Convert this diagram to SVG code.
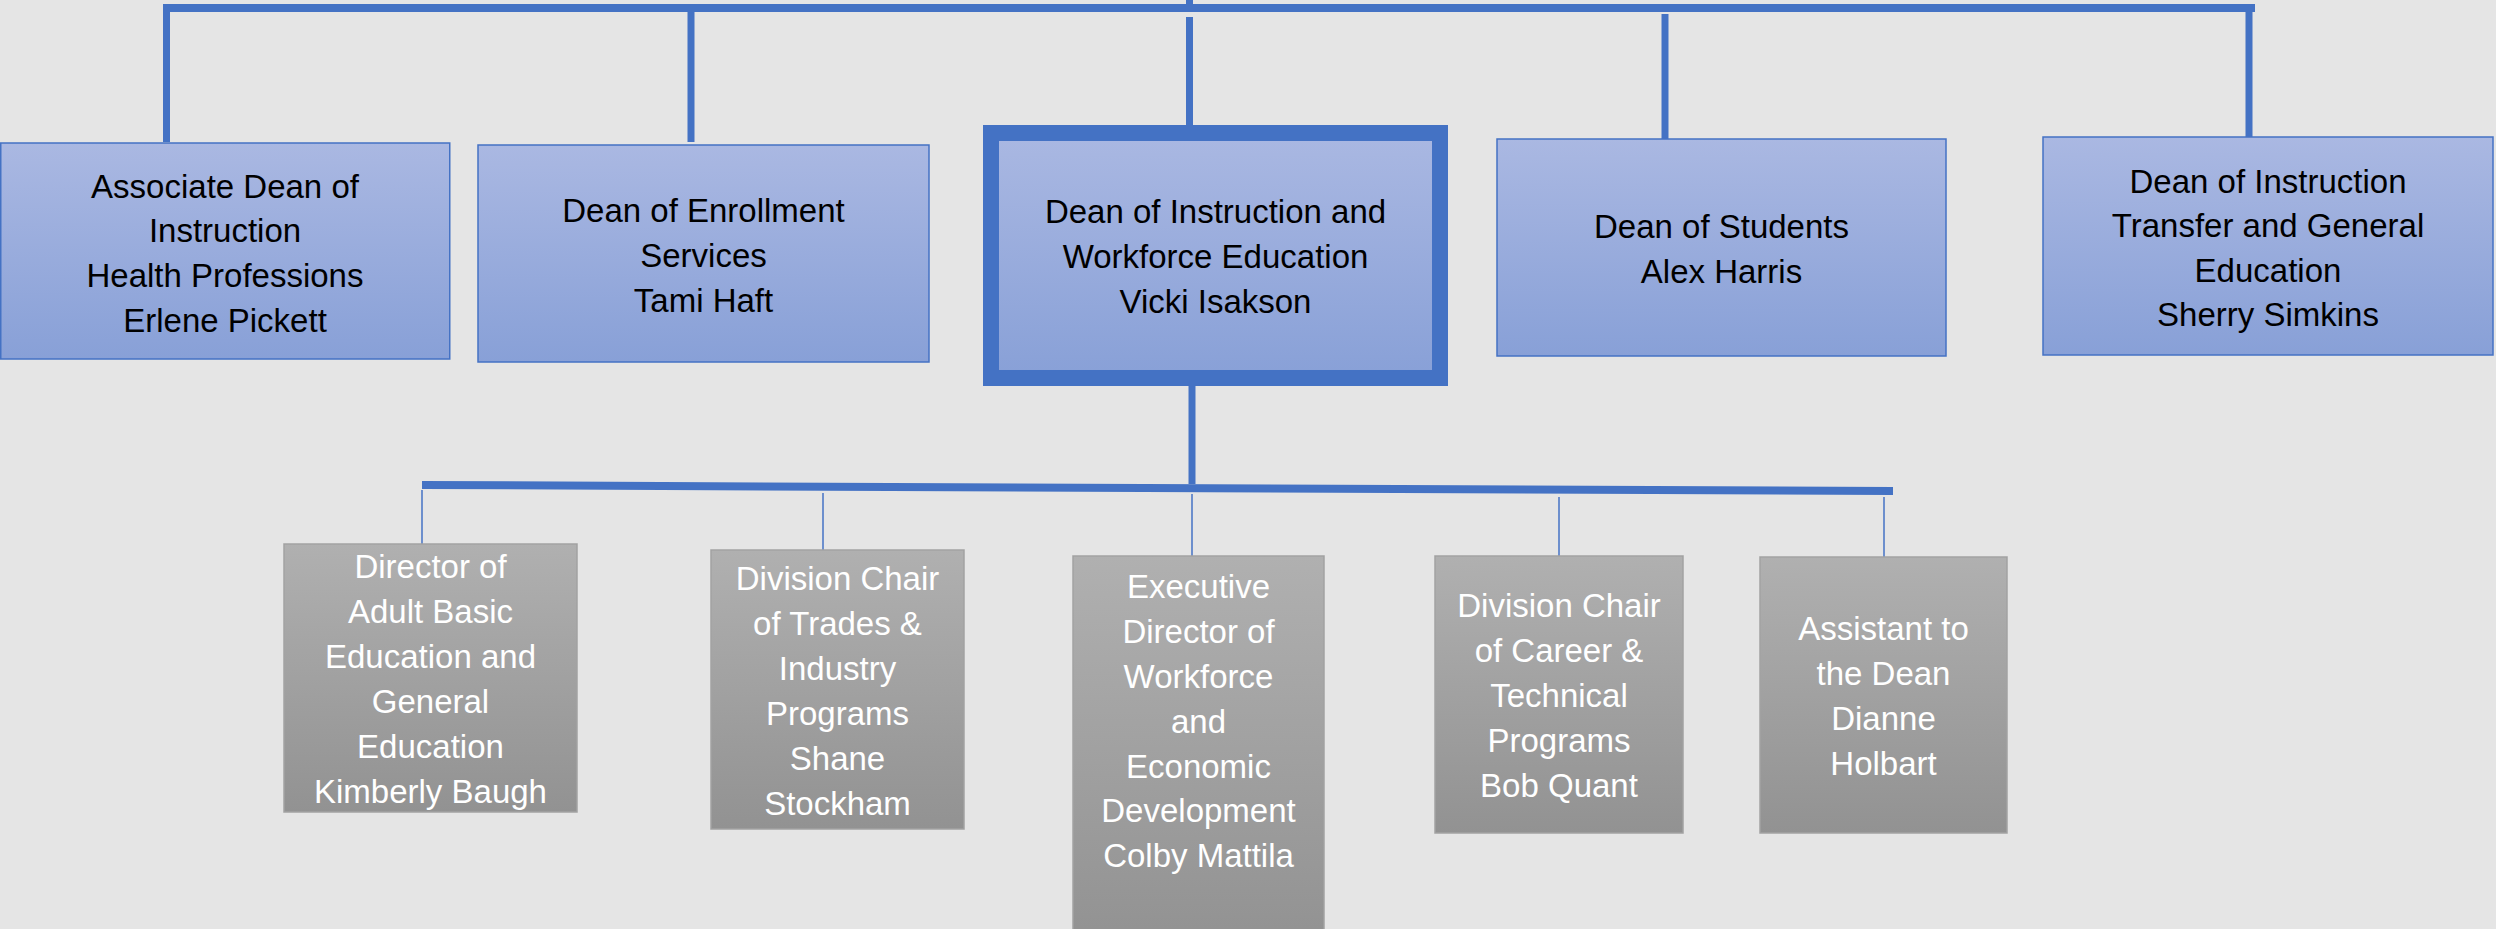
<svg xmlns="http://www.w3.org/2000/svg" width="2496" height="929" viewBox="0 0 2496 929">
<defs>
<linearGradient id="gBlue" x1="0" y1="0" x2="0" y2="1"><stop offset="0" stop-color="#AAB8E2"/><stop offset="1" stop-color="#88A0D7"/></linearGradient>
<linearGradient id="gGrey" x1="0" y1="0" x2="0" y2="1"><stop offset="0" stop-color="#B0B0B0"/><stop offset="1" stop-color="#929292"/></linearGradient>
<style>
.bg{fill:#E5E5E5}
.blue{fill:url(#gBlue);stroke:#4472C4;stroke-width:1.5}
.main{fill:url(#gBlue);stroke:#4472C4;stroke-width:16}
.grey{fill:url(#gGrey);stroke:#A2A2A2;stroke-width:1.5}
.tb{font-family:"Liberation Sans",Arial,sans-serif;font-size:33px;fill:#000;text-anchor:middle}
.tw{font-family:"Liberation Sans",Arial,sans-serif;font-size:33px;fill:#FFF;text-anchor:middle}
.thick{stroke:#4472C4;stroke-width:7;fill:none}
.bar{stroke:#4472C4;stroke-width:8;fill:none}
.thin{stroke:#4472C4;stroke-width:1.5;fill:none}
</style>
</defs>
<rect class="bg" x="0" y="0" width="2496" height="929"/>
<g id="connectors">
<line class="bar" x1="163" y1="8" x2="2255" y2="8"/>
<line class="thick" x1="1189.5" y1="0" x2="1189.5" y2="4"/>
<line class="thick" x1="1189.5" y1="17" x2="1189.5" y2="125"/>
<line class="thick" x1="166.5" y1="8" x2="166.5" y2="142"/>
<line class="thick" x1="691" y1="12" x2="691" y2="142"/>
<line class="thick" x1="1665" y1="14" x2="1665" y2="142"/>
<line class="thick" x1="2249" y1="8" x2="2249" y2="138"/>
<line class="thick" x1="1192" y1="386" x2="1192" y2="484"/>
<polygon fill="#4472C4" points="422,481 1893,487 1893,495 422,489"/>
<line class="thin" x1="422" y1="490" x2="422" y2="551"/>
<line class="thin" x1="823" y1="493" x2="823" y2="550"/>
<line class="thin" x1="1192" y1="494" x2="1192" y2="556"/>
<line class="thin" x1="1559" y1="497" x2="1559" y2="560"/>
<line class="thin" x1="1884" y1="497" x2="1884" y2="557"/>
</g>
<g id="n1">
<rect class="blue" x="0.75" y="143" width="449" height="216"/>
<text class="tb" x="225" y="198">Associate Dean of</text>
<text class="tb" x="225" y="242">Instruction</text>
<text class="tb" x="225" y="287">Health Professions</text>
<text class="tb" x="225" y="332">Erlene Pickett</text>
</g>
<g id="n2">
<rect class="blue" x="478" y="145" width="451" height="217"/>
<text class="tb" x="703.5" y="222">Dean of Enrollment</text>
<text class="tb" x="703.5" y="267">Services</text>
<text class="tb" x="703.5" y="312">Tami Haft</text>
</g>
<g id="n3">
<rect class="main" x="991" y="133" width="449" height="245"/>
<text class="tb" x="1215.5" y="223">Dean of Instruction and</text>
<text class="tb" x="1215.5" y="268">Workforce Education</text>
<text class="tb" x="1215.5" y="313">Vicki Isakson</text>
</g>
<g id="n4">
<rect class="blue" x="1497" y="139" width="449" height="217"/>
<text class="tb" x="1721.5" y="238">Dean of Students</text>
<text class="tb" x="1721.5" y="283">Alex Harris</text>
</g>
<g id="n5">
<rect class="blue" x="2043" y="137" width="450" height="218"/>
<text class="tb" x="2268" y="193">Dean of Instruction</text>
<text class="tb" x="2268" y="237">Transfer and General</text>
<text class="tb" x="2268" y="282">Education</text>
<text class="tb" x="2268" y="326">Sherry Simkins</text>
</g>
<g id="c1">
<rect class="grey" x="284" y="544" width="293" height="268"/>
<text class="tw" x="430.5" y="578">Director of</text>
<text class="tw" x="430.5" y="623">Adult Basic</text>
<text class="tw" x="430.5" y="668">Education and</text>
<text class="tw" x="430.5" y="713">General</text>
<text class="tw" x="430.5" y="758">Education</text>
<text class="tw" x="430.5" y="803">Kimberly Baugh</text>
</g>
<g id="c2">
<rect class="grey" x="711" y="550" width="253" height="279"/>
<text class="tw" x="837.5" y="590">Division Chair</text>
<text class="tw" x="837.5" y="635">of Trades &amp;</text>
<text class="tw" x="837.5" y="680">Industry</text>
<text class="tw" x="837.5" y="725">Programs</text>
<text class="tw" x="837.5" y="770">Shane</text>
<text class="tw" x="837.5" y="815">Stockham</text>
</g>
<g id="c3">
<rect class="grey" x="1073" y="556" width="251" height="385"/>
<text class="tw" x="1198.5" y="598">Executive</text>
<text class="tw" x="1198.5" y="643">Director of</text>
<text class="tw" x="1198.5" y="688">Workforce</text>
<text class="tw" x="1198.5" y="733">and</text>
<text class="tw" x="1198.5" y="778">Economic</text>
<text class="tw" x="1198.5" y="822">Development</text>
<text class="tw" x="1198.5" y="867">Colby Mattila</text>
</g>
<g id="c4">
<rect class="grey" x="1435" y="556" width="248" height="277"/>
<text class="tw" x="1559" y="617">Division Chair</text>
<text class="tw" x="1559" y="662">of Career &amp;</text>
<text class="tw" x="1559" y="707">Technical</text>
<text class="tw" x="1559" y="752">Programs</text>
<text class="tw" x="1559" y="797">Bob Quant</text>
</g>
<g id="c5">
<rect class="grey" x="1760" y="557" width="247" height="276"/>
<text class="tw" x="1883.5" y="640">Assistant to</text>
<text class="tw" x="1883.5" y="685">the Dean</text>
<text class="tw" x="1883.5" y="730">Dianne</text>
<text class="tw" x="1883.5" y="775">Holbart</text>
</g>
</svg>
